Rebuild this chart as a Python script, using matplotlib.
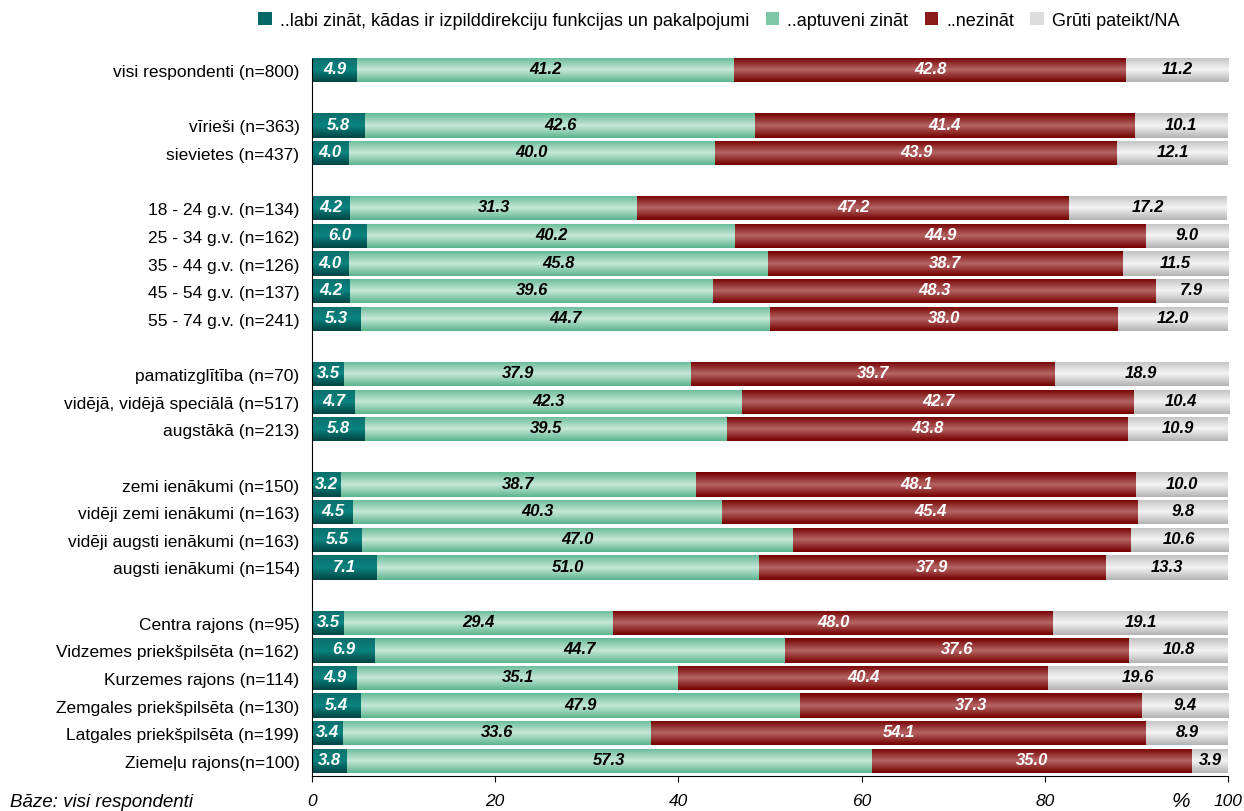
import numpy as np
import matplotlib
matplotlib.use("Agg")
import matplotlib.pyplot as plt
from matplotlib.patches import Patch
from matplotlib.colors import to_rgb

plt.rcParams['font.family'] = ['Liberation Sans', 'DejaVu Sans']

# rows (None = empty gap row)
categories = [
    "visi respondenti (n=800)", None,
    "vīrieši (n=363)", "sievietes (n=437)", None,
    "18 - 24 g.v. (n=134)", "25 - 34 g.v. (n=162)", "35 - 44 g.v. (n=126)",
    "45 - 54 g.v. (n=137)", "55 - 74 g.v. (n=241)", None,
    "pamatizglītība (n=70)", "vidējā, vidējā speciālā (n=517)", "augstākā (n=213)", None,
    "zemi ienākumi (n=150)", "vidēji zemi ienākumi (n=163)",
    "vidēji augsti ienākumi (n=163)", "augsti ienākumi (n=154)", None,
    "Centra rajons (n=95)", "Vidzemes priekšpilsēta (n=162)", "Kurzemes rajons (n=114)",
    "Zemgales priekšpilsēta (n=130)", "Latgales priekšpilsēta (n=199)", "Ziemeļu rajons(n=100)",
]

labi = [4.9, 5.8, 4.0, 4.2, 6.0, 4.0, 4.2, 5.3, 3.5, 4.7, 5.8,
        3.2, 4.5, 5.5, 7.1, 3.5, 6.9, 4.9, 5.4, 3.4, 3.8]
aptuveni = [41.2, 42.6, 40.0, 31.3, 40.2, 45.8, 39.6, 44.7, 37.9, 42.3, 39.5,
            38.7, 40.3, 47.0, 41.7, 29.4, 44.7, 35.1, 47.9, 33.6, 57.3]
nezinat = [42.8, 41.4, 43.9, 47.2, 44.9, 38.7, 48.3, 38.0, 39.7, 42.7, 43.8,
           48.1, 45.4, 36.9, 37.9, 48.0, 37.6, 40.4, 37.3, 54.1, 35.0]
gruti = [11.2, 10.1, 12.1, 17.2, 9.0, 11.5, 7.9, 12.0, 18.9, 10.4, 10.9,
         10.0, 9.8, 10.6, 13.3, 19.1, 10.8, 19.6, 9.4, 8.9, 3.9]

# labels printed on the bars where they differ from the bar length
label_override = {(14, 1): "51.0", (13, 2): ""}

series_names = ["..labi zināt, kādas ir izpilddirekciju funkcijas un pakalpojumi",
                "..aptuveni zināt", "..nezināt", "Grūti pateikt/NA"]
# top, middle, bottom colours of the gradient
grads = [["#0b6f6c", "#0a837f", "#004644"],
         ["#66bb98", "#c6e7d8", "#5db690"],
         ["#760000", "#b46464", "#760000"],
         ["#c2c2c2", "#f4f4f4", "#b4b4b4"]]
legend_colors = ["#046866", "#7fc6a6", "#8a1a1a", "#dcdcdc"]
text_colors = ["white", "black", "white", "black"]
xticks = [0, 20, 40, 60, 80, 100]


def make_grad(cols, n=32):
    c = [np.array(to_rgb(x)) for x in cols]
    out = []
    for v in np.linspace(0, 1, n):
        if v < 0.5:
            out.append(c[0] + (c[1] - c[0]) * (v / 0.5))
        else:
            out.append(c[1] + (c[2] - c[1]) * ((v - 0.5) / 0.5))
    return np.array(out).reshape(n, 1, 3)


fig = plt.figure(figsize=(12.44, 8.12), dpi=100)
ax = fig.add_axes([0.2508, 0.043, 0.7363, 0.883])

ypos = [i for i, c in enumerate(categories) if c is not None]
names = [c for c in categories if c is not None]
data = np.array([labi, aptuveni, nezinat, gruti])
h = 0.88

left = np.zeros(len(ypos))
for s in range(4):
    bars = ax.barh(ypos, data[s], left=left, height=h, color=grads[s][1],
                   edgecolor="none", zorder=2)
    g = make_grad(grads[s])
    for r, b in enumerate(bars):
        x0, w = b.get_x(), b.get_width()
        y0 = b.get_y()
        im = ax.imshow(g, extent=[x0, x0 + w, y0, y0 + h], origin="lower",
                       aspect="auto", interpolation="bilinear", zorder=3)
        im.set_clip_path(b)
        lab = label_override.get((r, s), f"{data[s][r]:.1f}")
        if lab:
            ax.text(x0 + w / 2, ypos[r] - 0.05, lab, ha="center", va="center",
                    color=text_colors[s], fontsize=12, fontweight="bold",
                    fontstyle="italic", zorder=5)
    left = left + data[s]

ax.set_xlim(0, 100)
ax.set_ylim(25.55, -0.4)
ax.set_yticks(ypos)
ax.set_yticklabels(names, fontsize=12.5)
ax.tick_params(axis="y", length=0, pad=9)
ax.set_xticks(xticks)
ax.set_xticklabels([str(x) for x in xticks], fontsize=12.5, fontstyle="italic")
ax.tick_params(axis="x", direction="out", length=4, pad=8)
for sp in ["top", "right"]:
    ax.spines[sp].set_visible(False)
ax.spines["left"].set_zorder(6)

fig.text(0.949, 0.0065, "%", fontsize=15, fontstyle="italic", ha="center", va="baseline")
fig.text(0.008, 0.0065, "Bāze: visi respondenti", fontsize=13.5, fontstyle="italic",
         ha="left", va="baseline")

handles = [Patch(facecolor=c, edgecolor="none") for c in legend_colors]
fig.legend(handles, series_names, loc="center", bbox_to_anchor=(0.578, 0.974),
           ncol=4, frameon=False, fontsize=13, handlelength=0.75,
           handleheight=0.75, handletextpad=0.45, columnspacing=0.9)

fig.savefig("out.png", dpi=100)
